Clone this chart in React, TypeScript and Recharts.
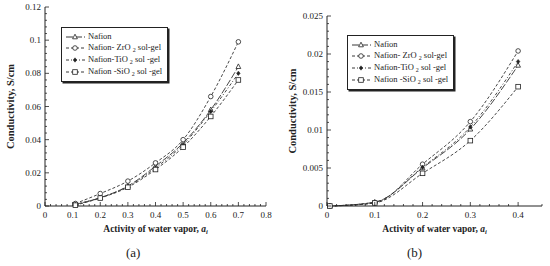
import React from 'react';
import { LineChart, Line, XAxis, YAxis, Legend, Label } from 'recharts';

// panel (a)
const activityA = [0.11, 0.2, 0.3, 0.4, 0.5, 0.6, 0.7];
const nafionA = [0.001, 0.005, 0.012, 0.024, 0.038, 0.058, 0.084];
const zro2A = [0.0015, 0.0075, 0.015, 0.026, 0.04, 0.066, 0.099];
const tio2A = [0.001, 0.005, 0.0118, 0.023, 0.037, 0.057, 0.08];
const sio2A = [0.0005, 0.0048, 0.0113, 0.022, 0.0355, 0.054, 0.076];
const xTicksA = [0, 0.1, 0.2, 0.3, 0.4, 0.5, 0.6, 0.7, 0.8];
const yTicksA = [0, 0.02, 0.04, 0.06, 0.08, 0.1, 0.12];

// panel (b)
const activityB = [0.006, 0.1, 0.2, 0.3, 0.4];
const nafionB = [0, 0.0005, 0.005, 0.0101, 0.0185];
const zro2B = [0, 0.0004, 0.0055, 0.0111, 0.0204];
const tio2B = [0, 0.0005, 0.0051, 0.0104, 0.019];
const sio2B = [0, 0.0004, 0.0043, 0.0086, 0.0157];
const xTicksB = [0, 0.1, 0.2, 0.3, 0.4];
const yTicksB = [0, 0.005, 0.01, 0.015, 0.02, 0.025];

const FONT = '"Liberation Serif", "DejaVu Serif", serif';

type Kind = 'triangle' | 'circle' | 'diamond' | 'square';

const SERIES: { key: string; kind: Kind; dash: string; name: string; ox: string }[] = [
  { key: 'nafion', kind: 'triangle', dash: '7 2', name: 'Nafion', ox: '' },
  { key: 'zro2', kind: 'circle', dash: '3 2', name: 'Nafion- ZrO', ox: ' sol-gel' },
  { key: 'tio2', kind: 'diamond', dash: '3 2 1 2', name: 'Nafion-TiO', ox: ' sol -gel' },
  { key: 'sio2', kind: 'square', dash: '3 2', name: 'Nafion -SiO', ox: ' sol -gel' }
];

const buildRows = (xs: number[], cols: number[][]) =>
  xs.map((x, i) => ({
    x,
    nafion: cols[0][i],
    zro2: cols[1][i],
    tio2: cols[2][i],
    sio2: cols[3][i]
  }));

const dataA = buildRows(activityA, [nafionA, zro2A, tio2A, sio2A]);
const dataB = buildRows(activityB, [nafionB, zro2B, tio2B, sio2B]);

// add minor ticks between majors
const withMinor = (majors: number[], parts: number) => {
  const out: number[] = [];
  for (let i = 0; i < majors.length - 1; i++) {
    const step = (majors[i + 1] - majors[i]) / parts;
    for (let j = 0; j < parts; j++) out.push(+(majors[i] + step * j).toFixed(6));
  }
  out.push(majors[majors.length - 1]);
  return out;
};

const isMajor = (v: number, majors: number[]) => majors.some(m => Math.abs(m - v) < 1e-9);

const Marker = ({ kind, cx, cy }: { kind: Kind; cx: number; cy: number }) => {
  const s = 2.4;
  if (kind === 'triangle')
    return (
      <polygon
        points={`${cx},${cy - s - 0.4} ${cx - s},${cy + s - 0.6} ${cx + s},${cy + s - 0.6}`}
        fill="#fff"
        stroke="#222"
        strokeWidth={0.8}
      />
    );
  if (kind === 'circle') return <circle cx={cx} cy={cy} r={2.3} fill="#fff" stroke="#222" strokeWidth={0.8} />;
  if (kind === 'diamond')
    return (
      <polygon
        points={`${cx},${cy - 2.2} ${cx + 1.8},${cy} ${cx},${cy + 2.2} ${cx - 1.8},${cy}`}
        fill="#222"
        stroke="#222"
        strokeWidth={0.5}
      />
    );
  return <rect x={cx - 2.3} y={cy - 2.3} width={4.6} height={4.6} fill="#fff" stroke="#222" strokeWidth={0.8} />;
};

const dotFor = (kind: Kind) => (p: any) =>
  <Marker key={`${kind}-${p.index}`} kind={kind} cx={p.cx} cy={p.cy} />;

const fmt = (v: number) => String(+v.toFixed(4));

const makeTick = (side: 'bottom' | 'top' | 'left' | 'right', majors: number[]) => (p: any) => {
  const { x, y, payload } = p;
  const major = isMajor(payload.value, majors);
  const len = major ? 4 : 2;
  if (side === 'bottom')
    return (
      <g>
        <line x1={x} y1={y} x2={x} y2={y - len} stroke="#222" strokeWidth={0.8} />
        {major && (
          <text x={x} y={y + 12} textAnchor="middle" fontSize={9} fontFamily={FONT} fill="#222">
            {fmt(payload.value)}
          </text>
        )}
      </g>
    );
  if (side === 'top') return <line x1={x} y1={y} x2={x} y2={y + len} stroke="#222" strokeWidth={0.8} />;
  if (side === 'right') return <line x1={x} y1={y} x2={x - len} y2={y} stroke="#222" strokeWidth={0.8} />;
  return (
    <g>
      <line x1={x} y1={y} x2={x + len} y2={y} stroke="#222" strokeWidth={0.8} />
      {major && (
        <text x={x - 4} y={y + 3} textAnchor="end" fontSize={9} fontFamily={FONT} fill="#222">
          {fmt(payload.value)}
        </text>
      )}
    </g>
  );
};

const XTitle = (p: any) => {
  const vb = p.viewBox;
  return (
    <text x={vb.x + vb.width / 2} y={vb.y + 26} textAnchor="middle" fontSize={9.5} fontWeight="bold" fontFamily={FONT} fill="#222">
      Activity of water vapor,{' '}
      <tspan fontStyle="italic">a</tspan>
      <tspan fontStyle="italic" fontSize={6.5} dy={2}>i</tspan>
    </text>
  );
};

const YTitle = (p: any) => {
  const vb = p.viewBox;
  const cx = vb.x + 14;
  const cy = vb.y + vb.height / 2;
  return (
    <text
      x={cx}
      y={cy}
      transform={`rotate(-90 ${cx} ${cy})`}
      textAnchor="middle"
      fontSize={10.5}
      fontWeight="bold"
      fontFamily={FONT}
      fill="#222"
    >
      Conductivity, S/cm
    </text>
  );
};

const rowHeights = [11, 12, 12, 12];

const LegendBox = () => (
  <div
    style={{
      background: '#fff',
      border: '1px solid #222',
      boxShadow: '1.5px 1.5px 0 #222',
      padding: '3px 5px 3px 3px',
      fontFamily: FONT,
      fontSize: 8.5,
      lineHeight: 1,
      color: '#222'
    }}
  >
    {SERIES.map((s, i) => (
      <div key={s.key} style={{ display: 'flex', alignItems: 'center', height: rowHeights[i], whiteSpace: 'nowrap' }}>
        <svg width={21} height={8} style={{ marginRight: 2, flex: 'none' }}>
          <line x1={1} y1={4} x2={20} y2={4} stroke="#222" strokeWidth={0.9} strokeDasharray={s.dash} />
          <Marker kind={s.kind} cx={10} cy={4} />
        </svg>
        <span style={{ color: '#222' }}>
          {s.name}
          {i > 0 && <sub style={{ fontSize: 6, lineHeight: 1, verticalAlign: -2, marginLeft: 2 }}>2</sub>}
          {s.ox}
        </span>
      </div>
    ))}
  </div>
);

interface PanelProps {
  data: any[];
  xTicks: number[];
  yTicks: number[];
  xMinorParts: number;
  yMinorParts: number;
  xMax: number;
  margin: { top: number; right: number; left: number; bottom: number };
  legendPos: { left: number; top: number };
}

const Panel = ({ data, xTicks, yTicks, xMinorParts, yMinorParts, xMax, margin, legendPos }: PanelProps) => {
  const xAll = withMinor(xTicks, xMinorParts).filter(v => v <= xMax + 1e-9);
  if (xAll[xAll.length - 1] < xMax - 1e-9) xAll.push(xMax);
  const yAll = withMinor(yTicks, yMinorParts);
  const yMax = yTicks[yTicks.length - 1];
  return (
    <LineChart width={275} height={266} data={data} margin={margin}>
      <XAxis
        xAxisId="b"
        dataKey="x"
        type="number"
        domain={[0, xMax]}
        ticks={xAll}
        interval={0}
        tickSize={0}
        tickMargin={0}
        height={60}
        stroke="#222"
        tick={makeTick('bottom', xTicks)}
      >
        <Label content={<XTitle />} />
      </XAxis>
      <XAxis
        xAxisId="t"
        orientation="top"
        dataKey="x"
        type="number"
        domain={[0, xMax]}
        ticks={xAll}
        interval={0}
        tickSize={0}
        tickMargin={0}
        height={0}
        stroke="#222"
        tick={makeTick('top', xTicks)}
      />
      <YAxis
        yAxisId="l"
        type="number"
        domain={[0, yMax]}
        ticks={yAll}
        interval={0}
        tickSize={0}
        tickMargin={0}
        width={45}
        stroke="#222"
        tick={makeTick('left', yTicks)}
      >
        <Label content={<YTitle />} />
      </YAxis>
      <YAxis
        yAxisId="r"
        orientation="right"
        type="number"
        domain={[0, yMax]}
        ticks={yAll}
        interval={0}
        tickSize={0}
        tickMargin={0}
        width={0}
        stroke="#222"
        tick={makeTick('right', yTicks)}
      />
      <Legend
        layout="vertical"
        align="center"
        verticalAlign="middle"
        content={() => <LegendBox />}
        wrapperStyle={{ left: legendPos.left, top: legendPos.top, width: 'auto' }}
      />
      {SERIES.map(s => (
        <Line
          key={s.key}
          xAxisId="b"
          yAxisId="l"
          dataKey={s.key}
          type="monotone"
          stroke="#333"
          strokeWidth={0.9}
          strokeDasharray={s.dash}
          dot={dotFor(s.kind)}
          activeDot={false}
          isAnimationActive={false}
        />
      ))}
    </LineChart>
  );
};

export default function App() {
  return (
    <div style={{ position: 'absolute', left: 0, top: 0, width: 550, height: 266, background: '#fff' }}>
      <div style={{ position: 'absolute', left: 0, top: 0 }}>
        <Panel
          data={dataA}
          xTicks={xTicksA}
          yTicks={yTicksA}
          xMinorParts={5}
          yMinorParts={5}
          xMax={0.8}
          margin={{ top: 7, right: 9, left: 0, bottom: 0 }}
          legendPos={{ left: 61, top: 27 }}
        />
      </div>
      <div style={{ position: 'absolute', left: 275, top: 0 }}>
        <Panel
          data={dataB}
          xTicks={xTicksB}
          yTicks={yTicksB}
          xMinorParts={5}
          yMinorParts={5}
          xMax={0.45}
          margin={{ top: 16, right: 8, left: 7, bottom: 0 }}
          legendPos={{ left: 72, top: 35 }}
        />
      </div>
      <div style={{ position: 'absolute', left: 126, top: 245, fontFamily: FONT, fontSize: 13, color: '#222' }}>(a)</div>
      <div style={{ position: 'absolute', left: 407, top: 245, fontFamily: FONT, fontSize: 13, color: '#222' }}>(b)</div>
    </div>
  );
}
